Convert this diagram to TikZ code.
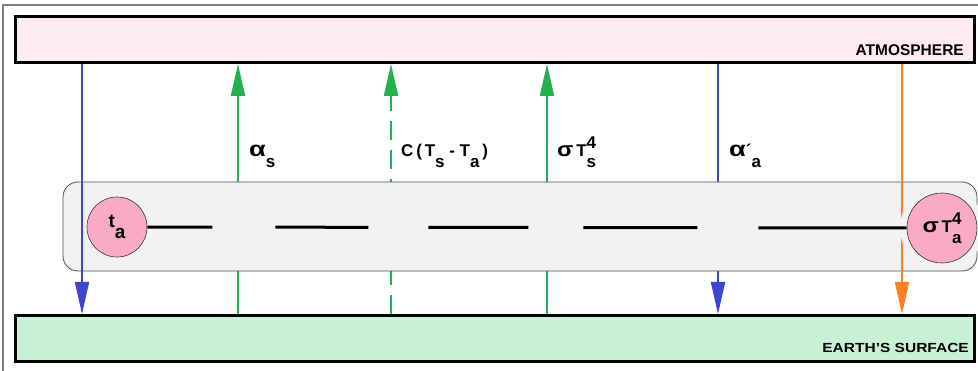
\documentclass[tikz,border=0pt]{standalone}
\usepackage{fontspec}
\setmainfont{Liberation Sans}
\usepackage{xcolor}
\usepackage{tikz}
\usetikzlibrary{arrows.meta, positioning}

\definecolor{atmpink}{HTML}{FDEBF0}
\definecolor{earthgreen}{HTML}{C8F1D6}
\definecolor{ballpink}{HTML}{F9ABC6}
\definecolor{bandgray}{HTML}{F2F2F2}
\definecolor{fluxblue}{HTML}{3C46CF}
\definecolor{fluxgreen}{HTML}{22B14C}
\definecolor{fluxorange}{HTML}{FF7F27}

% lowered / raised indices in the text font
\newcommand{\lowix}[1]{\raisebox{-0.6em}{#1}}
\newcommand{\highix}[1]{\raisebox{0.5em}{#1}}
\newcommand{\bothix}[2]{\rlap{\lowix{#1}}\highix{#2}}
% wider greek letters
\newcommand{\galpha}{\scalebox{1.6}[1.25]{α}}
\newcommand{\gsigma}{\scalebox{1.4}[1.2]{σ}}

\tikzstyle{layer} = [
rectangle,
line width=3pt,
draw=black,
minimum width=959pt,
minimum height=46pt
]
\tikzstyle{band} = [
rectangle,
rounded corners=15pt,
draw=black!70,
line width=0.8pt,
fill=bandgray,
minimum width=914pt,
minimum height=89pt
]
\tikzstyle{ball} = [
circle,
draw=black!80,
line width=0.6pt,
fill=ballpink,
inner sep=0pt,
font=\fontsize{19}{22}\selectfont\bfseries
]
\tikzstyle{flux} = [
line width=2pt,
-{Triangle[length=32pt,width=14pt]}
]
\tikzstyle{fluxlabel} = [
anchor=base west,
inner sep=0pt,
font=\fontsize{17}{20}\selectfont\bfseries
]
\tikzstyle{layerlabel} = [
anchor=base east,
inner sep=0pt,
font=\fontsize{15.5}{18}\selectfont\bfseries
]

\begin{document}
\begin{tikzpicture}[x=1pt, y=-1pt]
			
			\useasboundingbox (0,0) rectangle (978,371);
			\draw [gray, line width=1.2pt] (3,371) -- (3,5) -- (978,5);
			
			\node (atm) [layer, fill=atmpink] at (494.5,39.5) {};
			\node (earth) [layer, fill=earthgreen] at (495,338.5) {};
			
			% ends of the vertical fluxes on both layers
			\foreach \n/\x in {1/82, 2/238, 3/391, 4/547, 5/718, 6/902} {
				\coordinate (top\n) at (atm.south -| \x,0);
				\coordinate (bot\n) at (earth.north -| \x,0);
			}
			
			\draw [flux, fluxgreen] (bot2) -- (top2);
			\draw [flux, fluxgreen, dash pattern=on 19pt off 10pt] (bot3) -- (top3);
			\draw [flux, fluxgreen] (bot4) -- (top4);
			\draw [flux, fluxblue] (top5) -- (bot5);
			
			\node (air) [band] at (520,226.5) {};
			
			\draw [flux, fluxblue] (top1) -- (bot1);
			\draw [flux, fluxorange] (top6) -- (bot6);
			
			\coordinate (rc) at (942,228);
			\fill [bandgray] (rc) circle (42);
			
			\node (ta) [ball, minimum size=60pt] at (117,227) {t\lowix{a}};
			\node (sta) [ball, minimum size=70pt, font=\fontsize{17}{20}\selectfont\bfseries] at (rc) {\gsigma\,T\bothix{a}{4}};
			
			\draw [line width=3pt, dash pattern=on 65pt off 63pt on 93pt off 60pt on 100pt off 55pt on 114pt off 61pt on 200pt]
			(ta) -- (sta);
			
			\node (lab1) [fluxlabel] at (249,157) {\galpha\lowix{s}};
			\node (lab3) [fluxlabel] at (401,157) {C\,(\,T\lowix{s} - T\lowix{a}\,)};
			\node (lab4) [fluxlabel] at (557,157) {\gsigma\,T\bothix{s}{4}};
			\node (lab5) [fluxlabel] at (729,157) {\galpha´\lowix{a}};
			
			\node (atmlab) [layerlabel] at (964,56) {ATMOSPHERE};
			\node (earthlab) [layerlabel] at (969,353) {\scalebox{1}[0.85]{EARTH'S SURFACE}};
			
		\end{tikzpicture}
\end{document}
